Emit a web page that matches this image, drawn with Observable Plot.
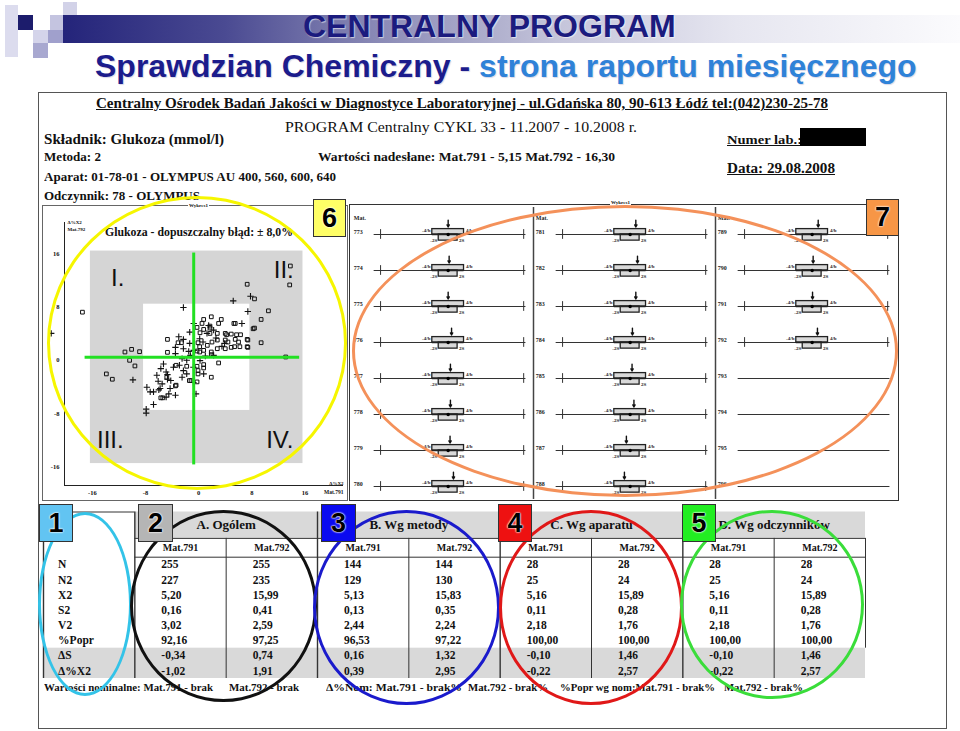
<!DOCTYPE html>
<html><head><meta charset="utf-8">
<script src="https://cdn.jsdelivr.net/npm/d3@7"></script>
<script src="https://cdn.jsdelivr.net/npm/@observablehq/plot@0.6"></script>
<style>
html,body{margin:0;padding:0;background:#fff}
#page{position:relative;width:960px;height:731px;overflow:hidden;font-family:"Liberation Sans",Arial,sans-serif}
.a{position:absolute;white-space:nowrap}
.serif{font-family:"Liberation Serif","Times New Roman",serif;font-weight:bold;color:#111}
.nb{position:absolute;box-sizing:border-box;border:1px solid #333;display:flex;align-items:center;justify-content:center;font:bold 27px "Liberation Sans",Arial,sans-serif;color:#000;text-shadow:0 0 2px #fff,0 0 2px #fff,0 0 1px #fff}
.ell{position:absolute;box-sizing:border-box;border-radius:50%;border:3px solid;pointer-events:none}
.sq{position:absolute}
</style></head>
<body><div id="page"></div>
<script>
// ---------------- DATA ----------------
// scatter (Youden-type) plot: Δ%X2 Mat.791 (x) vs Δ%X2 Mat.792 (y)
const xTicks = [-16, -8, 0, 8, 16];
const yTicks = [16, 8, 0, -8, -16];
const zoneHalf = [16, 8];              // grey = 2×, white = 1× dopuszczalny błąd
const guideX = [-0.45];
const guideY = [0];
const quadrantNames = ["I.", "II.", "III.", "IV."];
const quadrantX = [-11.9, 13.1, -13, 12.5];
const quadrantY = [11.9, 13.1, -12.5, -12.5];
const squarePts = [
  [14.1,13.75],[14.0,10.9],[7.6,11.0],[8.7,8.8],[10.8,7.0],[9.7,5.7],[8.5,4.3],[9.7,2.2],[13.4,0.05],
  [-17.2,6.8],[-10.8,0.8],[-9.8,1.2],[-8.6,0.85],[-10.1,-0.45],[-9.3,-1.3],[-13.6,-2.5],[-12.7,-3.3],
  [-4.4,2.7],[-4.4,0.75],[-2.8,2.2],[1.05,5.7],[2.2,6.1],[3.7,5.7],[3.3,5.1],[2.0,4.4],[1.05,4.2],
  [0.05,4.5],[3.1,3.6],[4.3,3.6],[5.6,5.1],[5.2,3.5],[6.6,3.4],[5.8,2.7],[7.6,2.7],[6.5,1.6],[5.7,1.6],
  [7.6,1.6],[4.3,2.6],[3.1,2.6],[2.3,2.3],[1.6,1.8],[0.45,1.6],[3.1,1.3],[4.3,1.3],[1.05,1.05],[0.05,0.95],
  [2.2,0.4],[3.3,-0.85],[2.2,-3.0],[1.05,-1.1],[1.05,-1.6],[0.05,-1.35],[0.05,-3.7],[-1.1,-3.5],
  [-3.2,-4.3],[-4.5,-3.0],[-3.1,-1.2],[-1.5,-1.35],[-5.4,-6.1],[0.8,5.1],[2.0,4.7],[5.8,5.1],[0.5,3.7],
  [2.0,3.6],[4.5,3.4],[6.0,3.4],[8.7,4.4],[-2.3,2.2],[0.2,2.2],[4.7,2.3],[6.3,2.3],[7.7,2.6],[5.2,1.5],
  [7.7,1.5],[0.45,0.8],[2.2,0.8],[0.2,-2.0],[0.2,-2.5],[-0.85,-3.5],[-3.1,-4.2],[-5.1,-6.1]
];
const plusPts = [
  [5.5,8.5],[8.1,9.2],[7.7,6.9],[6.8,5.1],[-2.0,7.5],[-21.9,3.6],[-9.6,-3.4],[-7.5,-4.5],[-7.6,-7.8],
  [-7.6,-8.4],[-6.5,-7.1],[-6.5,-5.2],[-5.7,-4.9],[-6.0,-2.7],[-5.4,-1.7],[-4.6,-2.2],[-5.2,-4.0],
  [-3.2,-5.7],[-4.6,-6.0],[-3.9,-3.5],[-3.5,-1.5],[-3.2,0.55],[-3.2,1.5],[-2.0,2.7],[-2.7,3.1],
  [-1.05,3.8],[-1.05,2.1],[-2.0,1.3],[-2.2,-0.2],[-2.0,-2.0],[-2.2,-3.0],[-1.5,-0.45],[-0.95,0.3],
  [-0.1,-5.5],[0.95,2.3],[1.55,3.6],[1.05,-2.5],[2.55,0.3],[3.8,1.65],[2.55,4.1],[1.8,4.8],[-0.45,5.1],
  [0.45,2.8],[-0.45,1.05],[-4.0,-4.7],[-7.0,-5.2],[-5.5,-4.7],[-5.0,-1.0],[-4.4,-2.6],[-4.4,-3.3],
  [-1.5,-2.5],[-0.5,-1.5],[0.5,-0.5],[-1.2,0.9],[-4.2,-5.5],[-5.8,-3.6],[-2.6,-1.2],[1.3,0.2],[2.9,2.9],
  [4.2,2.1],[-0.5,-3.8]
];

// control-chart panel (materials, lab results relative to target)
const matCol1 = ["773","774","775","776","777","778","779","780"];
const matCol2 = ["781","782","783","784","785","786","787","788"];
const matCol3 = ["789","790","791","792","793","794","795","796"];
const arrowCol1 = [0, 0.13, 0, 0.45, 0.3, 0.3, 0.25, 0.7];
const arrowCol2 = [0.75, 0.97, 0.75, 0.3, 0.25, 0.5, -0.5, -0.76];
const arrowCol3 = [0.8, 0.13, 0.05, 0.7, null, null, null, null];

// statistics table
const statNames = ["N","N2","X2","S2","V2","%Popr","ΔS","Δ%X2"];
const groupNames = ["A. Ogólem","B. Wg metody","C. Wg aparatu","D. Wg odczynników"];
const matNames = ["Mat.791","Mat.792"];
const ogolem791 = ["255","227","5,20","0,16","3,02","92,16","-0,34","-1,02"];
const ogolem792 = ["255","235","15,99","0,41","2,59","97,25","0,74","1,91"];
const metody791 = ["144","129","5,13","0,13","2,44","96,53","0,16","0,39"];
const metody792 = ["144","130","15,83","0,35","2,24","97,22","1,32","2,95"];
const aparatu791 = ["28","25","5,16","0,11","2,18","100,00","-0,10","-0,22"];
const aparatu792 = ["28","24","15,89","0,28","1,76","100,00","1,46","2,57"];
const odczyn791 = ["28","25","5,16","0,11","2,18","100,00","-0,10","-0,22"];
const odczyn792 = ["28","24","15,89","0,28","1,76","100,00","1,46","2,57"];

// ---------------- PAGE ----------------
const page = document.getElementById("page");
function el(cls, css, text) {
  const d = document.createElement("div");
  d.className = cls; d.style.cssText = css;
  if (text != null) d.textContent = text;
  page.appendChild(d); return d;
}
function txt(s, left, cy, size, width, extra = "", cls = "a serif") {
  const d = el(cls, `left:${left}px;top:${cy - size / 2}px;font-size:${size}px;line-height:${size}px;${extra}`, s);
  if (width) {
    const w = d.getBoundingClientRect().width;
    d.style.transformOrigin = "0 50%";
    d.style.transform = `scaleX(${width / w})`;
  }
  return d;
}
function place(svg, left, top) {
  const w = el("a", `left:${left}px;top:${top}px;`);
  w.appendChild(svg);
  return w;
}

// decorative squares + gradient bar
[[5,5,13,52,"#dcdcee"],[63,2,14,13,"#d2d2e8"],[50,15,13,15,"#c4c4e0"],[18,15,15,15,"#1c1c6c"],
 [33,30,15,13,"#d4d4ea"],[48,30,15,13,"#a0a0cc"],[33,43,15,15,"#a8a8d0"]].forEach(([x,y,w,h,c]) =>
  el("sq", `left:${x}px;top:${y}px;width:${w}px;height:${h}px;background:${c}`));
el("sq", "left:63px;top:15px;width:897px;height:28px;background:linear-gradient(to right,#24247a 0%,#4a4a92 18%,#8a8ab6 35%,#c4c4da 55%,#e6e6f0 75%,#fbfbfd 100%)");

el("a", 'left:303px;top:10px;font:bold 32px/32px "Liberation Sans",Arial,sans-serif;color:#1b1b7e;text-shadow:1px 1px 1px rgba(255,255,255,0.6)', "CENTRALNY PROGRAM");
const sub = el("a", 'left:95px;top:50px;font:bold 32px/32px "Liberation Sans",Arial,sans-serif;color:#1c1c8c;text-shadow:1px 1px 1px #d8d8e8');
sub.innerHTML = 'Sprawdzian Chemiczny - <span style="color:#2f82d8">strona raportu miesięcznego</span>';

// report frame
el("a", "left:38px;top:92px;width:909px;height:637px;border:1.5px solid #555;box-sizing:border-box");

// report header texts
txt("Centralny Ośrodek Badań Jakości w Diagnostyce Laboratoryjnej - ul.Gdańska 80, 90-613 Łódź tel:(042)230-25-78", 96, 104, 14, 732, "text-decoration:underline");
txt("PROGRAM Centralny CYKL 33 - 11.2007 - 10.2008 r.", 285, 127, 15, 352, "font-weight:normal");
txt("Składnik: Glukoza (mmol/l)", 44, 139, 15, 180);
txt("Metoda: 2", 44, 157, 12, 57);
txt("Wartości nadesłane:  Mat.791 - 5,15    Mat.792 - 16,30", 318, 157, 12, 297);
txt("Aparat: 01-78-01 - OLYMPUS AU 400, 560, 600, 640", 44, 176, 13, 292);
txt("Odczynnik: 78 - OLYMPUS", 44, 195, 13, 156);
txt("Numer lab.:", 727, 139, 13, 75, "text-decoration:underline");
el("sq", "left:800px;top:128px;width:66px;height:18px;background:#000");
txt("Data: 29.08.2008", 727, 169, 14, 108, "text-decoration:underline");

// ---------------- SCATTER ----------------
el("a", "left:42px;top:205px;width:306px;height:296px;border:1px solid #666;box-sizing:border-box;background:#fff");
const scatter = Plot.plot({
  width: 304, height: 297,
  marginLeft: 22, marginRight: 3, marginTop: 19, marginBottom: 15,
  x: {domain: [-19.9, 22.1]},
  y: {domain: [-19.3, 20.3]},
  style: {background: "none", overflow: "visible", fontFamily: "Liberation Serif, serif", color: "#111"},
  marks: [
    Plot.rect(zoneHalf.slice(0, 1), {x1: d => -d, x2: d => d, y1: d => -d, y2: d => d, fill: "#d5d5d5"}),
    Plot.rect(zoneHalf.slice(1), {x1: d => -d, x2: d => d, y1: d => -d, y2: d => d, fill: "#ffffff"}),
    Plot.dot(squarePts, {x: d => d[0], y: d => d[1], symbol: "square", r: 2.1, fill: "none", stroke: "#111", strokeWidth: 1}),
    Plot.dot(plusPts, {x: d => d[0], y: d => d[1], symbol: "plus", r: 2.2, stroke: "#111", strokeWidth: 1.1}),
    Plot.ruleX(guideX, {x: d => d, y1: -16.2, y2: 15.7, stroke: "#22e022", strokeWidth: 3}),
    Plot.ruleY(guideY, {y: d => d, x1: -16.8, x2: 15.5, stroke: "#22e022", strokeWidth: 3}),
    Plot.ruleX([-19.9], {y1: -19.3, y2: 20.3, stroke: "#222"}),
    Plot.ruleY([-19.3], {x1: -19.9, x2: 22.1, stroke: "#222"}),
    Plot.axisX({ticks: xTicks, tickSize: 0, tickPadding: 5, dx: 2, tickFormat: d => String(d), label: null, fontSize: 6.5, fontWeight: "bold"}),
    Plot.axisY({ticks: yTicks, tickSize: 0, tickPadding: 5, dy: 3, tickFormat: d => String(d), label: null, fontSize: 6.5, fontWeight: "bold"}),
    Plot.text(quadrantNames, {x: (d, i) => quadrantX[i], y: (d, i) => quadrantY[i], text: d => d, fontSize: 24, fontFamily: "Liberation Sans, Arial, sans-serif", fill: "#111"}),
    Plot.text(["Δ%X2\nMat.792"], {frameAnchor: "top-left", text: d => d, textAnchor: "start", lineAnchor: "bottom", dx: 3, dy: 8, fontSize: 5, fontWeight: "bold", lineHeight: 1.3}),
    Plot.text(["Δ%X2"], {frameAnchor: "bottom-right", text: d => d, textAnchor: "end", lineAnchor: "bottom", dy: -1, fontSize: 5, fontWeight: "bold"}),
    Plot.text(["Mat.791"], {frameAnchor: "bottom-right", text: d => d, textAnchor: "end", lineAnchor: "top", dy: 5, fontSize: 5.5, fontWeight: "bold"})
  ]
});
place(scatter, 42, 203);
txt("Glukoza - dopuszczalny błąd: ± 8,0%", 105, 231, 13, 188);
txt("Wykres1", 188, 205, 5, null, "background:#fff;padding:0 1px");

// ---------------- CONTROL PANEL ----------------
const matCols = [matCol1, matCol2, matCol3];
const arrowCols = [arrowCol1, arrowCol2, arrowCol3];
const boxRows = [];
matCols.forEach((col, c) => col.forEach((m, r) => boxRows.push({col: c, row: r, mat: m, arrow: arrowCols[c][r]})));
const withData = boxRows.filter(d => d.arrow != null);
const sepRows = boxRows.filter(d => d.col < 2);
const headRows = boxRows.filter(d => d.row === 0);
const F = {fx: "col", fy: "row"};
const small = {fontSize: 5, fontWeight: "bold", fill: "#222"};
const panel = Plot.plot({
  width: 548, height: 300, marginTop: 9, marginBottom: 0, marginLeft: 0, marginRight: 0,
  x: {domain: [-12.8, 11.3], axis: null},
  y: {domain: [-1, 1], axis: null},
  fx: {domain: [0, 1, 2], padding: 0, axis: null},
  fy: {domain: d3.range(8), padding: 0, axis: null},
  style: {background: "none", overflow: "visible", fontFamily: "Liberation Serif, serif", color: "#111"},
  marks: [
    Plot.ruleY(boxRows, {...F, y: 0, x1: -9.8, x2: 10.3, stroke: "#333", strokeWidth: 1}),
    Plot.ruleX(withData, {...F, x: -8.95, y1: -0.27, y2: 0.27, stroke: "#333"}),
    Plot.ruleX(withData, {...F, x: 10.0, y1: -0.27, y2: 0.27, stroke: "#333"}),
    Plot.rect(withData, {...F, x1: -2.1, x2: 2.1, y1: 0, y2: 0.3, fill: "#d9d9d9", stroke: "#222", strokeWidth: 1.3}),
    Plot.rect(withData, {...F, x1: -1.25, x2: 1.25, y1: -0.34, y2: 0, fill: "#d9d9d9", stroke: "#222", strokeWidth: 1.3}),
    Plot.ruleY(withData, {...F, y: 0, x1: -2.1, x2: 2.1, stroke: "#222", strokeWidth: 1.3}),
    Plot.dot(withData, {...F, x: 0, y: 0, r: 1.7, fill: "#000"}),
    Plot.arrow(withData, {...F, x1: "arrow", x2: "arrow", y1: 0.8, y2: 0.42, headLength: 4, strokeWidth: 1.4, stroke: "#111"}),
    Plot.text(withData, {...F, x: -2.35, y: 0.24, text: () => "-4/b", textAnchor: "end", ...small}),
    Plot.text(withData, {...F, x: 2.35, y: 0.24, text: () => "4/b", textAnchor: "start", ...small}),
    Plot.text(withData, {...F, x: -1.45, y: -0.32, text: () => "-2S", textAnchor: "end", ...small}),
    Plot.text(withData, {...F, x: 1.45, y: -0.32, text: () => "2S", textAnchor: "start", ...small}),
    Plot.text(boxRows, {...F, x: -12.5, y: 0.12, text: "mat", textAnchor: "start", fontSize: 6, fontWeight: "bold", fill: "#222"}),
    Plot.text(headRows, {...F, x: -12.5, y: 0.93, text: () => "Mat.", textAnchor: "start", fontSize: 6, fontWeight: "bold", fill: "#222"}),
    Plot.ruleX(sepRows, {...F, x: 11.3, y1: d => d.row === 7 ? -0.72 : -1, y2: d => d.row === 0 ? 1.5 : 1, stroke: "#444", strokeWidth: 1.5})
  ]
});
el("a", "left:349px;top:204px;width:550px;height:297px;border:1.5px solid #333;box-sizing:border-box");
place(panel, 350, 205);
txt("Wykres1", 610, 202, 5, null, "background:#fff;padding:0 1px");

// ---------------- TABLE ----------------
const tableCols = [ogolem791, ogolem792, metody791, metody792, aparatu791, aparatu792, odczyn791, odczyn792];
const cells = [];
tableCols.forEach((col, c) => col.forEach((v, r) => cells.push({c: c + 1, r, v})));
const subHeads = d3.range(8).map(i => ({c: i + 1, name: matNames[i % 2]}));
const ln = {stroke: "#333", strokeWidth: 1};
const table = Plot.plot({
  width: 822, height: 168, margin: 0,
  x: {domain: [0, 9], range: [0, 822], axis: null},
  y: {domain: [-2.98, 8], range: [0.5, 167], axis: null},
  style: {background: "none", overflow: "visible", fontFamily: "Liberation Serif, Times New Roman, serif", color: "#111"},
  marks: [
    Plot.rect([groupNames], {x1: 1, x2: 9, y1: -2.98, y2: -1.24, fill: "#d9d9d9"}),
    Plot.rect([statNames], {x1: 0, x2: 9, y1: 6, y2: 8, fill: "#d9d9d9"}),
    Plot.ruleY([-2.98], {x1: 0, x2: 1, ...ln}),
    Plot.ruleY([-1.24, 0], {x1: 1, x2: 9, ...ln}),
    Plot.ruleX([0, 1, 3, 5, 7], {y1: -2.98, y2: 8, stroke: "#333", strokeWidth: 1.4}),
    Plot.ruleX([2, 4, 6, 8], {y1: -1.24, y2: 8, ...ln}),
    Plot.ruleX([9], {y1: -1.24, y2: 6, ...ln}),
    Plot.text(groupNames, {x: (d, i) => 2 * i + 2, y: -2.11, text: d => d, fontSize: 13, fontWeight: "bold"}),
    Plot.text(subHeads, {x: d => d.c + 0.5, y: -0.62, text: "name", fontSize: 10, fontWeight: "bold"}),
    Plot.text(statNames, {x: 0.16, y: (d, i) => i + 0.5, text: d => d, textAnchor: "start", fontSize: 11.5, fontWeight: "bold"}),
    Plot.text(cells, {x: d => d.c + 0.29, y: d => d.r + 0.5, text: "v", textAnchor: "start", fontSize: 11.5, fontWeight: "bold"})
  ]
});
place(table, 43, 511);

txt("Wartości nominalne:  Mat.791 - brak", 44, 687, 11, 169);
txt("Mat.792 - brak", 229, 687, 11, 70);
txt("Δ%Nom:  Mat.791 - brak%", 326, 687, 11, 136);
txt("Mat.792 - brak%", 468, 687, 11, 80);
txt("%Popr wg nom:Mat.791 - brak%", 560, 687, 11, 155);
txt("Mat.792 - brak%", 724, 687, 11, 79);

// ---------------- ANNOTATIONS ----------------
[[196.5,343,150,147,"#f6f600"],[625,351,273,146,"#f4915a"],[85,604,47,92,"#33c3e8"],
 [223.5,606,93.5,96,"#111111"],[406.5,607.5,93.5,97.5,"#1a1acc"],[590.5,607.5,92,97.5,"#e01818"],
 [772,604.5,92,94.5,"#3add3a"]].forEach(([cx,cy,rx,ry,c]) =>
  el("ell", `left:${cx-rx}px;top:${cy-ry}px;width:${2*rx}px;height:${2*ry}px;border-color:${c}`));
[["1",39,504,34,38,"#62c4f2"],["2",138,504,35,38,"#b5b5b5"],["3",321,504,35,38,"#0a0af0"],
 ["4",498,504,34,38,"#ee1111"],["5",682,504,34,38,"#22ee22"],["6",313,199,33,38,"#ffff66"],
 ["7",866,199,33,37,"#f79646"]].forEach(([t,x,y,w,h,c]) =>
  el("nb", `left:${x}px;top:${y}px;width:${w}px;height:${h}px;background:${c}`, t));
</script></body></html>
